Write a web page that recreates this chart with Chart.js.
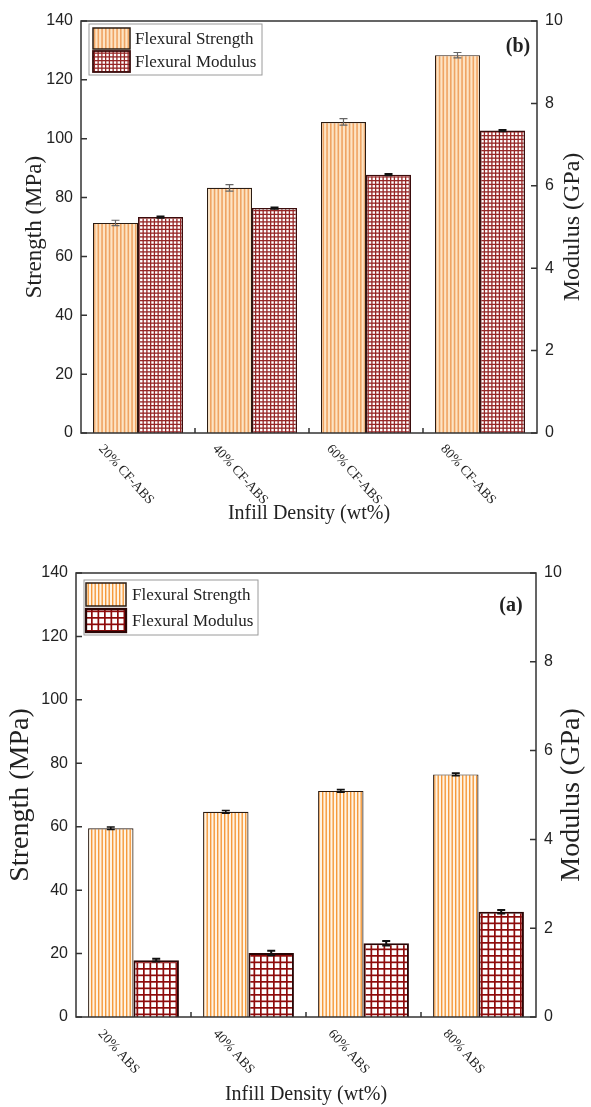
<!DOCTYPE html>
<html>
<head>
<meta charset="utf-8">
<script src="https://cdn.jsdelivr.net/npm/chart.js@4.4.1/dist/chart.umd.min.js"></script>
<style>
  html, body { margin: 0; padding: 0; background: #fff; }
  #wrap { position: relative; width: 591px; height: 1107px; }
  .box { position: absolute; left: 0; width: 591px; }
  #boxB { top: 0; height: 545px; }
  #boxA { top: 552px; height: 555px; }
</style>
</head>
<body>
<div id="wrap">
  <div class="box" id="boxB"><canvas id="chartB"></canvas></div>
  <div class="box" id="boxA"><canvas id="chartA"></canvas></div>
</div>
<script>
// ---- data ----
const seriesNames = ["Flexural Strength", "Flexural Modulus"];
const strengthTicks = [0, 20, 40, 60, 80, 100, 120, 140]; // MPa
const modulusTicks = [0, 2, 4, 6, 8, 10]; // GPa

// (b) CF-ABS
const cfAbsLabels = ["20% CF-ABS", "40% CF-ABS", "60% CF-ABS", "80% CF-ABS"];
const cfAbsStrength = [71.4, 83.3, 105.7, 128.4];
const cfAbsStrengthErr = [0.9, 1.1, 1.1, 0.9];
const cfAbsModulus = [5.24, 5.46, 6.27, 7.34];
const cfAbsModulusErr = [0.02, 0.02, 0.02, 0.02];

// (a) ABS
const absLabels = ["20% ABS", "40% ABS", "60% ABS", "80% ABS"];
const absStrength = [59.5, 64.7, 71.3, 76.5];
const absStrengthErr = [0.4, 0.4, 0.4, 0.4];
const absModulus = [1.28, 1.44, 1.66, 2.37];
const absModulusErr = [0.03, 0.05, 0.05, 0.04];

const SERIF = "'Liberation Serif', 'Times New Roman', serif";
const SANS = "'Liberation Sans', Arial, sans-serif";

// vertical stripes (strength hatch)
function stripePattern(ctx, period, n, line, fg, bg) {
  const c = document.createElement("canvas");
  c.width = Math.round(period * n);
  c.height = 4;
  const g = c.getContext("2d");
  g.fillStyle = bg;
  g.fillRect(0, 0, c.width, c.height);
  g.fillStyle = fg;
  for (let k = 0; k < n; k++) g.fillRect(k * period, 0, line, c.height);
  return ctx.createPattern(c, "repeat");
}

// square grid (modulus hatch)
function gridPattern(ctx, period, n, line, fg, bg) {
  const c = document.createElement("canvas");
  c.width = c.height = Math.round(period * n);
  const g = c.getContext("2d");
  g.fillStyle = bg;
  g.fillRect(0, 0, c.width, c.height);
  g.fillStyle = fg;
  for (let k = 0; k < n; k++) {
    g.fillRect(k * period, 0, line, c.height);
    g.fillRect(0, k * period, c.width, line);
  }
  return ctx.createPattern(c, "repeat");
}

// frame, inward ticks, slanted category labels, legend, error bars
function makeFigurePlugin(cfg) {
  return {
    id: "figure",
    afterDatasetsDraw(chart) {
      const ctx = chart.ctx;
      cfg.errors.forEach((errs, di) => {
        const meta = chart.getDatasetMeta(di);
        const sc = chart.scales[meta.yAxisID];
        const vals = chart.data.datasets[di].data;
        ctx.save();
        ctx.strokeStyle = cfg.errColor[di];
        ctx.lineWidth = cfg.errWidth[di];
        meta.data.forEach((bar, i) => {
          const yt = sc.getPixelForValue(vals[i] + errs[i]);
          const yb = sc.getPixelForValue(vals[i] - errs[i]);
          ctx.beginPath();
          ctx.moveTo(bar.x, yt); ctx.lineTo(bar.x, yb);
          ctx.moveTo(bar.x - 4, yt); ctx.lineTo(bar.x + 4, yt);
          ctx.moveTo(bar.x - 4, yb); ctx.lineTo(bar.x + 4, yb);
          ctx.stroke();
        });
        ctx.restore();
      });
    },
    afterDraw(chart) {
      const { ctx, chartArea: a } = chart;
      const xs = chart.scales.x, yl = chart.scales.y, yr = chart.scales.y1;
      ctx.save();
      ctx.strokeStyle = "#333";
      ctx.lineWidth = 1.5;
      ctx.strokeRect(a.left, a.top, a.right - a.left, a.bottom - a.top);
      ctx.beginPath();
      yl.ticks.forEach(t => {
        const y = yl.getPixelForValue(t.value);
        ctx.moveTo(a.left, y); ctx.lineTo(a.left + 6, y);
      });
      yr.ticks.forEach(t => {
        const y = yr.getPixelForValue(t.value);
        ctx.moveTo(a.right, y); ctx.lineTo(a.right - 6, y);
      });
      for (let i = 1; i < cfg.labels.length; i++) {
        const bx = (xs.getPixelForValue(i - 1) + xs.getPixelForValue(i)) / 2;
        ctx.moveTo(bx, a.bottom); ctx.lineTo(bx, a.bottom - 5);
      }
      ctx.stroke();

      // category labels slanting down to the right
      ctx.fillStyle = "#222";
      ctx.font = "13.5px " + SERIF;
      ctx.textAlign = "left";
      ctx.textBaseline = "top";
      cfg.labels.forEach((lab, i) => {
        const cx = xs.getPixelForValue(i);
        ctx.save();
        ctx.translate(cx + cfg.catDx, a.bottom + cfg.catDy);
        ctx.rotate(48 * Math.PI / 180);
        ctx.fillText(lab, 0, 0);
        ctx.restore();
      });

      // right axis title, reading bottom to top
      ctx.save();
      ctx.font = cfg.rightTitleSize + "px " + SERIF;
      ctx.fillStyle = "#222";
      ctx.textAlign = "center";
      ctx.textBaseline = "middle";
      ctx.translate(cfg.rightTitleX, (a.top + a.bottom) / 2);
      ctx.rotate(-Math.PI / 2);
      ctx.fillText("Modulus (GPa)", 0, 0);
      ctx.restore();

      // legend box
      const lg = cfg.legend;
      const lx = a.left + lg.dx, ly = a.top + lg.dy;
      ctx.fillStyle = "#fff";
      ctx.fillRect(lx, ly, lg.w, lg.h);
      ctx.strokeStyle = "#9a9a9a";
      ctx.lineWidth = 1;
      ctx.strokeRect(lx, ly, lg.w, lg.h);
      chart.data.datasets.forEach((ds, di) => {
        const sy = ly + lg.rowY[di];
        ctx.fillStyle = ds.backgroundColor;
        ctx.fillRect(lx + lg.swX, sy, lg.swW, lg.swH);
        ctx.strokeStyle = ds.borderColor;
        ctx.lineWidth = ds.borderWidth + 0.3;
        ctx.strokeRect(lx + lg.swX, sy, lg.swW, lg.swH);
        ctx.fillStyle = "#222";
        ctx.font = "17px " + SERIF;
        ctx.textAlign = "left";
        ctx.textBaseline = "middle";
        ctx.fillText(ds.label, lx + lg.textX, sy + lg.swH / 2 + 1);
      });

      // panel letter
      ctx.fillStyle = "#222";
      ctx.font = "bold 20px " + SERIF;
      ctx.textAlign = "center";
      ctx.textBaseline = "middle";
      ctx.fillText(cfg.panel, a.right - cfg.panelDx, a.top + cfg.panelDy);
      ctx.restore();
    }
  };
}

function buildChart(canvasId, cfg) {
  const canvas = document.getElementById(canvasId);
  const c2d = canvas.getContext("2d");
  const strengthFill = stripePattern(c2d, cfg.stripe.period, cfg.stripe.n, cfg.stripe.line, cfg.stripe.fg, cfg.stripe.bg);
  const modulusFill = gridPattern(c2d, cfg.grid.period, cfg.grid.n, cfg.grid.line, cfg.grid.fg, cfg.grid.bg);
  const yTickFont = { family: SANS, size: 16 };
  return new Chart(canvas, {
    type: "bar",
    data: {
      labels: cfg.labels,
      datasets: [
        { label: seriesNames[0], data: cfg.strength, yAxisID: "y",
          backgroundColor: strengthFill, borderColor: "#2b1c12", borderWidth: 1.2 },
        { label: seriesNames[1], data: cfg.modulus, yAxisID: "y1",
          backgroundColor: modulusFill, borderColor: cfg.modBorder, borderWidth: cfg.modBorderWidth }
      ]
    },
    options: {
      responsive: true,
      maintainAspectRatio: false,
      animation: false,
      layout: { padding: { top: cfg.padTop, left: 0, right: 0, bottom: 0 } },
      datasets: { bar: { categoryPercentage: 0.79, barPercentage: 1.0 } },
      plugins: { legend: { display: false }, tooltip: { enabled: false } },
      scales: {
        x: {
          grid: { display: false, drawTicks: false },
          border: { display: false },
          ticks: { display: false },
          title: { display: true, text: "Infill Density (wt%)", color: "#222",
                   font: { family: SERIF, size: 20 }, padding: { top: 0, bottom: cfg.xTitlePad } },
          afterFit: s => { s.height = cfg.xHeight; }
        },
        y: {
          position: "left",
          min: strengthTicks[0], max: strengthTicks[strengthTicks.length - 1],
          afterBuildTicks: s => { s.ticks = strengthTicks.map(v => ({ value: v })); },
          grid: { display: false, drawTicks: false },
          border: { display: false },
          ticks: { font: yTickFont, color: "#222", padding: 8 },
          title: { display: true, text: "Strength (MPa)", color: "#222",
                   font: { family: SERIF, size: cfg.leftTitleSize }, padding: { top: cfg.leftTitlePad, bottom: 0 } },
          afterFit: s => { s.width = cfg.leftWidth; }
        },
        y1: {
          position: "right",
          min: modulusTicks[0], max: modulusTicks[modulusTicks.length - 1],
          afterBuildTicks: s => { s.ticks = modulusTicks.map(v => ({ value: v })); },
          grid: { display: false, drawTicks: false },
          border: { display: false },
          ticks: { font: yTickFont, color: "#222", padding: 8 },
          afterFit: s => { s.width = cfg.rightWidth; }
        }
      }
    },
    plugins: [makeFigurePlugin(cfg)]
  });
}

buildChart("chartB", {
  labels: cfAbsLabels, strength: cfAbsStrength, modulus: cfAbsModulus,
  errors: [cfAbsStrengthErr, cfAbsModulusErr],
  errColor: ["#666", "#111"], errWidth: [1.2, 1.6],
  stripe: { period: 3.75, n: 4, line: 1.6, fg: "#efa463", bg: "#fde4c4" },
  grid: { period: 3.75, n: 4, line: 1.3, fg: "#962626", bg: "#fff" },
  modBorder: "#3b0d0d", modBorderWidth: 1.5,
  padTop: 21, xHeight: 112, leftWidth: 81, rightWidth: 54,
  xTitlePad: 19, leftTitleSize: 23, leftTitlePad: 21,
  rightTitleSize: 24, rightTitleX: 573,
  catDx: -32, catDy: 9,
  legend: { dx: 8, dy: 3, w: 173, h: 51, swX: 4, swW: 37, swH: 21, rowY: [4, 27], textX: 46 },
  panel: "(b)", panelDx: 19, panelDy: 26
});

buildChart("chartA", {
  labels: absLabels, strength: absStrength, modulus: absModulus,
  errors: [absStrengthErr, absModulusErr],
  errColor: ["#111", "#111"], errWidth: [1.6, 2],
  stripe: { period: 3.5, n: 2, line: 1.4, fg: "#f59a3b", bg: "#fff4e4" },
  grid: { period: 6.5, n: 2, line: 1.7, fg: "#8e0b0b", bg: "#fff" },
  modBorder: "#2a0505", modBorderWidth: 2,
  padTop: 21, xHeight: 90, leftWidth: 76, rightWidth: 55,
  xTitlePad: 0, leftTitleSize: 28, leftTitlePad: 4,
  rightTitleSize: 28, rightTitleX: 572,
  catDx: -28, catDy: 10,
  legend: { dx: 8, dy: 7, w: 174, h: 55, swX: 2, swW: 40, swH: 23, rowY: [3, 29], textX: 48 },
  panel: "(a)", panelDx: 25, panelDy: 33
});
</script>
</body>
</html>
